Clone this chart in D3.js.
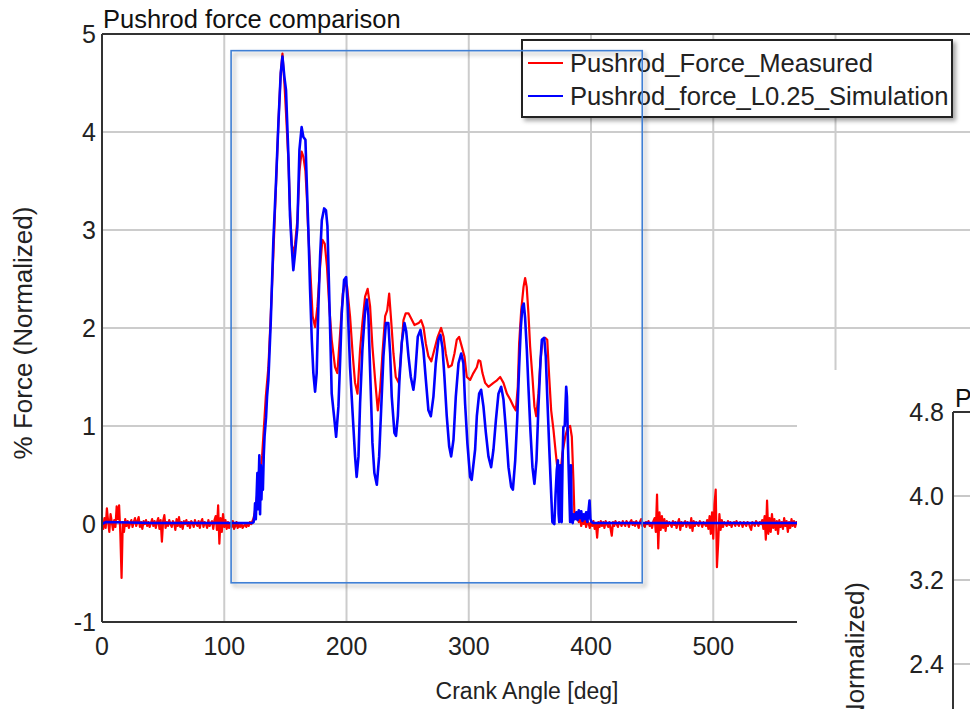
<!DOCTYPE html>
<html><head><meta charset="utf-8">
<script src="https://cdn.jsdelivr.net/npm/d3@7"></script>
<style>
html,body{margin:0;padding:0;background:#fff;}
svg{display:block;font-family:"Liberation Sans",Arial,sans-serif;}
</style></head>
<body><svg id="c" width="970" height="709"></svg>
<script>
// ---------------- DATA ----------------
const chartTitle = "Pushrod force comparison";
const xLabel = "Crank Angle [deg]";
const yLabel = "% Force (Normalized)";
const seriesNames = ["Pushrod_Force_Measured", "Pushrod_force_L0.25_Simulation"];
const xTicks = [0, 100, 200, 300, 400, 500];
const yTicks = [-1, 0, 1, 2, 3, 4, 5];
const insetTicks = [4.8, 4.0, 3.2, 2.4];
const insetTitle = "P";
// zoom window drawn on the main plot [x0,x1,y0,y1] and connector level
const zoomWindow = [105.6, 441.9, -0.6, 4.83];
const connectorLevel = 2.11;

// measured (red) [deg, value]
const measured = [
[0,0.02],[1,-0.05],[2,0.06],[3,-0.04],[4,0.16],[5,0.03],[6,-0.08],[7,0.1],[8,0.02],[9,-0.06],
[10,0.04],[11,-0.03],[12,0.18],[13,0.05],[14,0.19],[15,-0.1],[16,-0.55],[17,0.02],[18,-0.08],[19,0.05],
[20,-0.02],[21,0.03],[22,-0.04],[23,0.01],[24,0.04],[25,-0.03],[26,0.02],[27,0.06],[28,-0.02],[29,0.03],
[30,0.07],[31,-0.03],[32,0.02],[33,-0.05],[34,0.03],[35,0.0],[36,0.04],[37,-0.02],[38,0.02],[39,-0.03],
[40,0.01],[41,0.05],[42,-0.02],[43,0.03],[44,-0.04],[45,0.02],[46,0.06],[47,-0.05],[48,0.04],[49,-0.18],
[50,0.03],[51,0.09],[52,-0.04],[53,0.02],[54,-0.02],[55,0.04],[56,0.0],[57,-0.03],[58,0.03],[59,0.01],
[60,-0.06],[61,0.05],[62,-0.02],[63,0.07],[64,-0.03],[65,0.02],[66,-0.05],[67,0.03],[68,0.0],[69,0.04],
[70,-0.02],[71,0.02],[72,-0.04],[73,0.03],[74,0.01],[75,-0.03],[76,0.04],[77,0.0],[78,-0.02],[79,0.03],
[80,-0.04],[81,0.02],[82,0.05],[83,-0.03],[84,0.02],[85,0.0],[86,-0.04],[87,0.04],[88,-0.02],[89,0.01],
[90,0.03],[91,-0.05],[92,0.04],[93,0.08],[94,-0.06],[95,0.19],[96,-0.2],[97,0.06],[98,-0.08],[99,0.1],
[100,-0.03],[101,0.04],[102,-0.05],[103,0.02],[104,-0.04],[105,0.01],[106,-0.03],[107,0.03],[108,-0.05],[109,-0.02],
[110,0.02],[111,-0.04],[112,-0.01],[113,-0.03],[114,0.01],[115,-0.04],[116,-0.02],[117,0.0],[118,-0.03],[119,0.01],
[120,-0.02],[121,0.02],[122,0.0],[123,0.03],[124,0.06],[125,0.12],[126,0.2],[127,0.3],[128,0.42],[129,0.55],
[130,0.58],[131,0.7],[132,0.9],[133,1.1],[134,1.3],[136.1,1.6],[138,2.12],[140.2,2.76],[142.4,3.48],[144.3,4.1],
[146.2,4.6],[147.6,4.8],[149.2,4.5],[150.5,4.2],[152.5,3.7],[153.8,3.2],[155.2,2.85],[156.5,2.76],[157.9,2.85],[159.8,3.1],
[161.5,3.6],[163.3,3.8],[164.7,3.75],[166.4,3.6],[167.5,3.35],[168.8,2.95],[170.2,2.63],[172.3,2.12],[174.3,2.01],[176.2,2.22],
[178.4,2.63],[180.3,2.9],[182.2,2.86],[184,2.63],[185.9,2.22],[187.9,1.88],[190.6,1.6],[192.5,1.54],[194.8,1.95],[197,2.35],
[198.9,2.46],[200.5,2.42],[202.9,2.12],[205,1.74],[207,1.44],[209,1.33],[211.1,1.78],[213,2.05],[215.2,2.32],[217.3,2.4],
[219.3,2.22],[221.2,1.81],[223.4,1.47],[225.6,1.16],[227.5,1.37],[229.4,1.74],[231.6,2.12],[233.3,2.18],[234.9,2.35],[236.5,2.08],
[238.4,1.74],[240.3,1.5],[242.8,1.44],[244.4,1.71],[246.6,2.08],[248.4,2.15],[250.7,2.15],[252.8,2.1],[255.6,2.03],[259,2.05],
[261,2.08],[263,2.01],[264.9,1.84],[267,1.71],[269.4,1.66],[271.9,1.78],[274.6,1.91],[277.4,2.0],[279.4,1.91],[281.2,1.74],
[283.4,1.6],[286.1,1.62],[288.3,1.74],[290.2,1.88],[292.1,1.91],[294.3,1.81],[296.5,1.71],[298.4,1.5],[301.1,1.47],[303.8,1.54],
[306.6,1.6],[308,1.67],[309.5,1.66],[311.2,1.54],[313.4,1.44],[316.1,1.4],[320.2,1.44],[322.5,1.46],[325.7,1.5],[328.4,1.44],
[331.2,1.33],[333.9,1.27],[336.6,1.2],[338.5,1.16],[340.1,1.4],[341.2,1.84],[342.9,2.18],[344.8,2.42],[346.1,2.51],[347.4,2.42],
[348.8,2.15],[350.2,1.81],[352.1,1.5],[353.7,1.2],[355.2,1.1],[357,1.33],[358.7,1.67],[360.3,1.88],[362.5,1.9],[364.2,1.88],
[365.8,1.5],[367.4,1.16],[369.3,0.96],[371.2,0.72],[372.9,0.52],[374.8,0.48],[376.6,0.72],[378.9,0.89],[381,0.99],[382.9,1.0],
[384.3,0.89],[385.6,0.45],[386.4,0.11],[388,0.05],[389,0.08],[390,0.02],[391,0.06],[392,-0.02],[393,0.05],[394,0.0],
[395,0.04],[396,-0.03],[397,0.03],[398,0.01],[399,-0.04],[400,0.02],[401,-0.02],[402,0.03],[403,-0.05],[404,0.01],
[405,-0.14],[406,0.02],[407,-0.03],[408,0.03],[409,-0.02],[410,0.02],[411,-0.04],[412,0.03],[413,0.0],[414,-0.03],
[415,0.02],[416,-0.05],[417,-0.12],[418,0.02],[419,-0.02],[420,0.03],[421,0.0],[422,-0.03],[423,0.02],[424,0.01],
[425,-0.02],[426,0.03],[427,0.0],[428,-0.02],[429,0.03],[430,0.01],[431,-0.03],[432,0.02],[433,0.04],[434,-0.01],
[435,0.02],[436,-0.02],[437,0.03],[438,0.0],[439,-0.04],[440,0.02],[441,0.05],[442,-0.02],[443,0.01],[444,-0.03],
[445,0.02],[446,0.0],[447,0.03],[448,-0.02],[449,0.01],[450,-0.04],[451,0.03],[452,0.06],[453,-0.08],[454,0.3],
[455,-0.25],[456,0.12],[457,-0.06],[458,0.08],[459,-0.04],[460,0.05],[461,-0.07],[462,0.03],[463,-0.02],[464,0.02],
[465,0.0],[466,-0.03],[467,0.03],[468,-0.01],[469,0.02],[470,-0.04],[471,0.01],[472,0.05],[473,-0.06],[474,0.02],
[475,-0.02],[476,0.01],[477,0.03],[478,-0.03],[479,0.02],[480,0.0],[481,-0.04],[482,0.06],[483,-0.07],[484,0.03],
[485,-0.02],[486,0.02],[487,0.0],[488,-0.02],[489,0.03],[490,0.01],[491,-0.03],[492,0.02],[493,0.0],[494,-0.02],
[495,0.04],[496,-0.05],[497,0.08],[498,-0.1],[499,0.12],[500,-0.15],[501,0.2],[502,0.35],[503,-0.44],[504,-0.2],
[505,0.1],[506,-0.06],[507,0.04],[508,-0.03],[509,0.02],[510,0.0],[511,-0.02],[512,0.03],[513,-0.01],[514,0.02],
[515,-0.03],[516,0.01],[517,0.02],[518,-0.02],[519,0.03],[520,0.0],[521,-0.02],[522,0.02],[523,0.01],[524,-0.03],
[525,0.02],[526,0.0],[527,-0.02],[528,0.02],[529,0.01],[530,-0.03],[531,-0.06],[532,0.02],[533,0.0],[534,-0.02],
[535,0.03],[536,0.01],[537,-0.02],[538,0.02],[539,0.0],[540,0.04],[541,-0.05],[542,0.08],[543,-0.16],[544,0.24],
[545,-0.1],[546,0.06],[547,-0.08],[548,0.1],[549,-0.04],[550,0.05],[551,-0.06],[552,0.03],[553,-0.1],[554,0.04],
[555,-0.03],[556,0.02],[557,-0.05],[558,0.06],[559,-0.02],[560,0.03],[561,-0.08],[562,0.02],[563,-0.04],[564,0.05],
[565,-0.02],[566,0.03],[567,-0.03],[568,0.02],[569,0.0],[570,0.01]
];

// simulation (blue) [deg, value]
const simulation = [
[0,0.0],[3,0.02],[40,0.01],[80,0.01],[123,0.01],[124,0.02],[124.8,0.1],[125.2,0.21],[125.8,0.05],[126.5,0.3],
[127.1,0.52],[127.6,0.15],[128.2,0.45],[128.7,0.7],[129.3,0.1],[129.9,0.6],[130.4,0.25],[131,0.5],[131.6,0.35],[132.3,0.7],
[133,0.9],[134.2,1.09],[135,1.3],[136.1,1.47],[138,2.05],[140.2,2.9],[142.4,3.51],[144.3,4.09],[146.2,4.6],[147.6,4.77],
[149.2,4.56],[150.5,4.43],[152.5,3.75],[153.8,3.14],[155.2,2.83],[156.5,2.59],[157.9,2.76],[159.8,3.03],[161.5,3.82],[163.3,4.05],
[164.7,3.95],[166.4,3.92],[167.5,3.48],[168.8,3.0],[170.2,2.39],[171.6,1.88],[172.9,1.54],[174.3,1.35],[175.6,1.54],[177,2.22],
[178.4,2.73],[179.8,3.1],[181.7,3.22],[183.2,3.2],[184.4,3.04],[185.4,2.56],[186.6,1.98],[187.9,1.33],[189.8,1.1],[191.5,0.89],
[193.4,1.2],[194.8,1.67],[196.1,2.15],[198,2.49],[199.7,2.52],[201,2.22],[202.9,1.6],[205,1.13],[207,0.69],[208.3,0.48],
[209.8,0.69],[211.1,1.23],[213,1.78],[215.2,2.18],[216.6,2.29],[217.9,2.13],[219.3,1.57],[221.2,0.83],[222.8,0.52],[224.8,0.4],
[226.7,0.69],[228.3,1.16],[230.2,1.71],[232.2,2.05],[234.2,2.05],[235.7,1.74],[237,1.3],[239.2,0.93],[240.5,0.9],[242,1.1],
[243.3,1.47],[245.2,1.85],[247.4,2.05],[248.8,1.97],[250.7,1.71],[252.6,1.5],[254.7,1.37],[256,1.5],[258.3,1.91],[260.5,1.98],
[262.9,1.78],[264.9,1.47],[267,1.16],[269,1.1],[271.1,1.3],[273,1.64],[275.2,1.88],[276.8,1.93],[278.5,1.8],[280.1,1.5],
[282,1.1],[284,0.79],[285.6,0.69],[287.5,0.86],[289.4,1.3],[291.6,1.64],[293.8,1.74],[295.6,1.64],[297,1.23],[298.9,0.82],
[301.1,0.48],[302.4,0.45],[305.2,0.76],[306.6,1.1],[308.5,1.33],[310.1,1.37],[312,1.2],[314,0.93],[316.1,0.69],[318.3,0.58],
[320.2,0.76],[322.2,1.06],[324.3,1.33],[326.5,1.4],[328.4,1.27],[330.4,0.96],[332.5,0.58],[334.7,0.38],[336.1,0.35],[338,0.65],
[339.6,1.06],[341.2,1.6],[342.6,2.01],[343.9,2.22],[345,2.25],[346.1,2.1],[347.5,1.78],[348.8,1.4],[350.4,0.96],[352.1,0.58],
[353.7,0.41],[355.4,0.65],[357,1.2],[358.7,1.67],[359.8,1.88],[361.7,1.9],[363,1.71],[364.3,1.27],[365.8,0.79],[367.4,0.31],
[368.4,0.02],[370,0.0],[371,0.3],[372,0.55],[372.9,0.65],[373.5,0.1],[374,0.02],[374.8,0.6],[375.5,0.03],[376,0.02],
[376.8,0.7],[377.4,0.99],[378.5,1.0],[379.7,1.4],[380.3,1.3],[381.2,0.79],[382.9,0.02],[383.6,0.6],[384.2,0.03],[385,0.01],
[386,0.1],[387,0.05],[388,0.12],[389,0.04],[390,0.14],[391,0.06],[392,0.13],[393,0.03],[394,0.1],[395,0.05],
[396,0.12],[397,0.02],[398.8,0.24],[399.5,0.05],[400.5,0.02],[402,0.01],[480,0.01],[570,0.01]
];

// ---------------- DRAW ----------------
const svg = d3.select("#c");
const W = 970, H = 709;
const x = d3.scaleLinear().domain([0, 710]).range([102, 970]);
const y = d3.scaleLinear().domain([-1, 5]).range([622, 34]);
const coverX = 797, coverY = 370;

const defs = svg.append("defs");
const sh = defs.append("filter").attr("id","shadow").attr("x","-10%").attr("y","-10%").attr("width","130%").attr("height","130%");
sh.append("feDropShadow").attr("dx",3).attr("dy",3).attr("stdDeviation",2).attr("flood-color","#000").attr("flood-opacity",0.35);
defs.append("clipPath").attr("id","plotclip").append("rect")
  .attr("x",102).attr("y",34).attr("width",W-102).attr("height",622-34);

svg.append("rect").attr("width",W).attr("height",H).attr("fill","#fff");

// grid
const grid = svg.append("g").attr("stroke","#cccccc").attr("stroke-width",2);
grid.selectAll("line.v").data(xTicks.filter(d=>d>0).concat([600])).join("line")
  .attr("x1",d=>x(d)).attr("x2",d=>x(d)).attr("y1",y(5)).attr("y2",y(-1));
grid.selectAll("line.h").data(yTicks.filter(d=>d>-1 && d<5)).join("line")
  .attr("x1",x(0)).attr("x2",W).attr("y1",d=>y(d)).attr("y2",d=>y(d));

// series
const line = d3.line().x(d=>x(d[0])).y(d=>y(d[1]));
const plot = svg.append("g").attr("clip-path","url(#plotclip)");
plot.append("path").datum(measured).attr("d",line).attr("fill","none")
  .attr("stroke","#ff0000").attr("stroke-width",2.2).attr("stroke-linejoin","round");
plot.append("path").datum(simulation).attr("d",line).attr("fill","none")
  .attr("stroke","#0000ff").attr("stroke-width",2.6).attr("stroke-linejoin","round");

// axes frame
const ax = svg.append("g").attr("stroke","#333").attr("stroke-width",2);
ax.append("line").attr("x1",x(0)).attr("x2",x(0)).attr("y1",y(5)).attr("y2",y(-1));
ax.append("line").attr("x1",x(0)).attr("x2",W).attr("y1",y(5)).attr("y2",y(5));
ax.append("line").attr("x1",x(0)).attr("x2",W).attr("y1",y(-1)).attr("y2",y(-1));

// tick labels
svg.append("g").selectAll("text").data(yTicks).join("text")
  .attr("x",96).attr("y",d=>y(d)+9).attr("text-anchor","end")
  .attr("font-size",25).attr("fill","#222").text(d=>d);
svg.append("g").selectAll("text").data(xTicks).join("text")
  .attr("x",d=>x(d)).attr("y",655).attr("text-anchor","middle")
  .attr("font-size",25).attr("fill","#222").text(d=>d);

// titles
svg.append("text").attr("x",103).attr("y",28).attr("font-size",25.5).attr("fill","#111").text(chartTitle);
svg.append("text").attr("transform","translate(32,333) rotate(-90)").attr("text-anchor","middle")
  .attr("font-size",26).attr("fill","#222").text(yLabel);
svg.append("text").attr("x",527).attr("y",699).attr("text-anchor","middle")
  .attr("font-size",23).attr("fill","#222").text(xLabel);

// legend
const lg = svg.append("g");
lg.append("rect").attr("x",522).attr("y",40).attr("width",430).attr("height",77)
  .attr("fill","#fff").attr("stroke","#222").attr("stroke-width",2).attr("filter","url(#shadow)");
const lgColors = ["#ff0000","#0000ff"];
seriesNames.forEach((n,i)=>{
  const yy = 63 + i*33;
  lg.append("line").attr("x1",528).attr("x2",563).attr("y1",yy).attr("y2",yy)
    .attr("stroke",lgColors[i]).attr("stroke-width",2);
  lg.append("text").attr("x",570).attr("y",yy+9).attr("font-size",25.6).attr("fill","#222").text(n);
});

// zoom window and connector
svg.append("rect").attr("x",x(zoomWindow[0])).attr("y",y(zoomWindow[3]))
  .attr("width",x(zoomWindow[1])-x(zoomWindow[0])).attr("height",y(zoomWindow[2])-y(zoomWindow[3]))
  .attr("fill","none").attr("stroke","#3f7fd4").attr("stroke-width",1.6).attr("filter","url(#shadow)");
svg.append("line").attr("x1",x(zoomWindow[1])).attr("x2",W).attr("y1",y(connectorLevel)).attr("y2",y(connectorLevel))
  .attr("stroke","#4a86d6").attr("stroke-width",4.5).attr("filter","url(#shadow)");

// cover panel (inset region)
svg.append("rect").attr("x",coverX).attr("y",coverY).attr("width",W-coverX).attr("height",H-coverY).attr("fill","#fff");

// inset
const yi = d3.scaleLinear().domain([2.4, 4.8]).range([664, 412]);
const ins = svg.append("g");
ins.selectAll("line.g").data(insetTicks.slice(1)).join("line")
  .attr("x1",954).attr("x2",W).attr("y1",d=>yi(d)).attr("y2",d=>yi(d))
  .attr("stroke","#c8c8c8").attr("stroke-width",2);
ins.append("line").attr("x1",953).attr("x2",953).attr("y1",yi(4.8)).attr("y2",H).attr("stroke","#333").attr("stroke-width",2);
ins.append("line").attr("x1",953).attr("x2",W).attr("y1",yi(4.8)).attr("y2",yi(4.8)).attr("stroke","#333").attr("stroke-width",2);
ins.selectAll("text.t").data(insetTicks).join("text")
  .attr("x",944).attr("y",d=>yi(d)+9).attr("text-anchor","end")
  .attr("font-size",25).attr("fill","#222").text(d=>d.toFixed(1));
ins.append("text").attr("x",955).attr("y",407).attr("font-size",25).attr("fill","#111").text(insetTitle);
ins.append("text").attr("transform","translate(864,582) rotate(-90)").attr("text-anchor","end")
  .attr("font-size",26).attr("fill","#222").text(yLabel);
</script></body></html>
